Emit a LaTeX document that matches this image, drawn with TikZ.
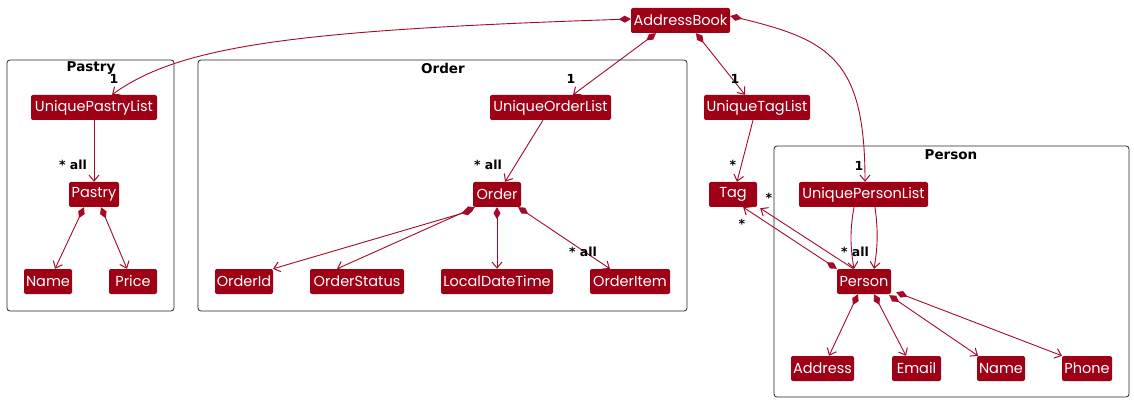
\documentclass[tikz,border=0pt]{standalone}
\usepackage{fontspec}
\setmainfont{DejaVu Sans}
\newfontfamily\nodefont{Poppins}
\usetikzlibrary{arrows.meta}
\definecolor{cls}{RGB}{158,0,22}
\definecolor{edge}{RGB}{163,10,40}
\tikzset{
  cbox/.style={fill=cls, text=white, rounded corners=2pt, minimum height=25pt, inner sep=0pt, font=\nodefont\fontsize{14.5}{14.5}\selectfont},
  frame/.style={draw=black!85, line width=0.8pt, rounded corners=3pt},
  ftitle/.style={font=\bfseries\fontsize{13.5}{13.5}\selectfont, inner sep=0pt},
  mult/.style={font=\bfseries\fontsize{12.5}{12.5}\selectfont, inner sep=0pt},
  assoc/.style={draw=edge, line width=0.9pt, -{Straight Barb[length=6pt,width=10pt,line width=1pt]}},
  comp/.style={draw=edge, line width=0.9pt, {Diamond[length=12pt,width=7pt,fill=edge]}-{Straight Barb[length=6pt,width=10pt,line width=1pt]}}
}
\begin{document}
\begin{tikzpicture}[x=1pt,y=-1pt]
\useasboundingbox (0,0) rectangle (1134,403);
% frames
\draw[frame] (7,60) rectangle (174,311);
\node[ftitle] (tpastry) at (91,68) {Pastry};
\draw[frame] (198,60) rectangle (687,311);
\node[ftitle] (torder) at (443,68) {Order};
\draw[frame] (774,146) rectangle (1129,397);
\node[ftitle] (tperson) at (951,155) {Person};
% nodes
\node[cbox, minimum width=99pt] (ab) at (680.5,20.5) {AddressBook};
\node[cbox, minimum width=126pt] (upl) at (94,107.5) {UniquePastryList};
\node[cbox, minimum width=50pt] (pastry) at (94,194.5) {Pastry};
\node[cbox, minimum width=48pt] (pname) at (48,281.5) {Name};
\node[cbox, minimum width=48pt] (price) at (133,281.5) {Price};
\node[cbox, minimum width=121pt] (uol) at (550.5,107.5) {UniqueOrderList};
\node[cbox, minimum width=48pt] (order) at (497,194.5) {Order};
\node[cbox, minimum width=58pt] (oid) at (244,281.5) {OrderId};
\node[cbox, minimum width=94pt] (ostat) at (357,281.5) {OrderStatus};
\node[cbox, minimum width=112pt] (ldt) at (497,281.5) {LocalDateTime};
\node[cbox, minimum width=80pt] (oitem) at (630,281.5) {OrderItem};
\node[cbox, minimum width=106pt] (utl) at (757,107.5) {UniqueTagList};
\node[cbox, minimum width=48pt] (tag) at (733,194.5) {Tag};
\node[cbox, minimum width=129pt] (upsl) at (863.5,194.5) {UniquePersonList};
\node[cbox, minimum width=54pt] (person) at (864,281.5) {Person};
\node[cbox, minimum width=63pt] (addr) at (822.5,368.5) {Address};
\node[cbox, minimum width=49pt] (email) at (916.5,368.5) {Email};
\node[cbox, minimum width=48pt] (nname) at (1001,368.5) {Name};
\node[cbox, minimum width=50pt] (phone) at (1087,368.5) {Phone};
% AddressBook edges
\draw[comp] ([yshift=1.5pt]ab.west) .. controls (300,30) and (180,45) .. ([xshift=18pt]upl.north);
\draw[comp] ([xshift=-24.5pt]ab.south) -- ([xshift=22.5pt]uol.north);
\draw[comp] ([xshift=15.5pt]ab.south) -- ([xshift=-12pt]utl.north);
\draw[comp] ([yshift=4.5pt]ab.east) .. controls (830,40) and (865,60) .. ([xshift=1.5pt]upsl.north);
\node[mult] (m1) at (114,79) {1};
\node[mult] (m2) at (571,79) {1};
\node[mult] (m3) at (735,79) {1};
\node[mult] (m4) at (859,166) {1};
% Pastry
\draw[assoc] (upl.south) -- (pastry.north);
\node[mult] (m5) at (73,165) {* all};
\draw[comp] ([xshift=-10pt]pastry.south) -- ([xshift=7pt]pname.north);
\draw[comp] ([xshift=7pt]pastry.south) -- ([xshift=-6pt]price.north);
% Order
\draw[assoc] ([xshift=-7.5pt]uol.south) -- ([xshift=8pt]order.north);
\node[mult] (m6) at (488,165) {* all};
\draw[comp] ([yshift=-3pt]order.south west) -- ([xshift=29pt]oid.north);
\draw[comp] ([xshift=2pt]order.south west) -- ([xshift=-20pt]ostat.north);
\draw[comp] (order.south) -- (ldt.north);
\draw[comp] ([xshift=-3pt]order.south east) -- ([xshift=-20pt]oitem.north);
\node[mult] (m7) at (583,252) {* all};
% Tag
\draw[assoc] ([xshift=-4pt]utl.south) -- ([xshift=4pt]tag.north);
\node[mult] (m8) at (733,165) {*};
% Person
\draw[assoc] ([xshift=-9.5pt]upsl.south) .. controls (850,230) and (850,245) .. ([xshift=-10pt]person.north);
\draw[assoc] ([xshift=11.5pt]upsl.south) .. controls (878,230) and (878,245) .. ([xshift=10pt]person.north);
\node[mult] (m9) at (855,252) {* all};
\draw[comp] (person.north west) -- ([xshift=-14pt]tag.south east);
\draw[assoc] ([xshift=-10.5pt]person.north) -- ([xshift=3pt,yshift=-1pt]tag.south east);
\node[mult] (m10) at (769,198) {*};
\node[mult] (m11) at (742,224) {*};
\draw[comp] ([xshift=-6pt]person.south) -- ([xshift=6.5pt]addr.north);
\draw[comp] ([xshift=10pt]person.south) -- ([xshift=-10.5pt]email.north);
\draw[comp] ([xshift=-2pt,yshift=-1pt]person.south east) -- ([xshift=-23pt]nname.north);
\draw[comp] ([xshift=5pt,yshift=2pt]person.south east) -- ([xshift=-25pt]phone.north);
\end{tikzpicture}
\end{document}
